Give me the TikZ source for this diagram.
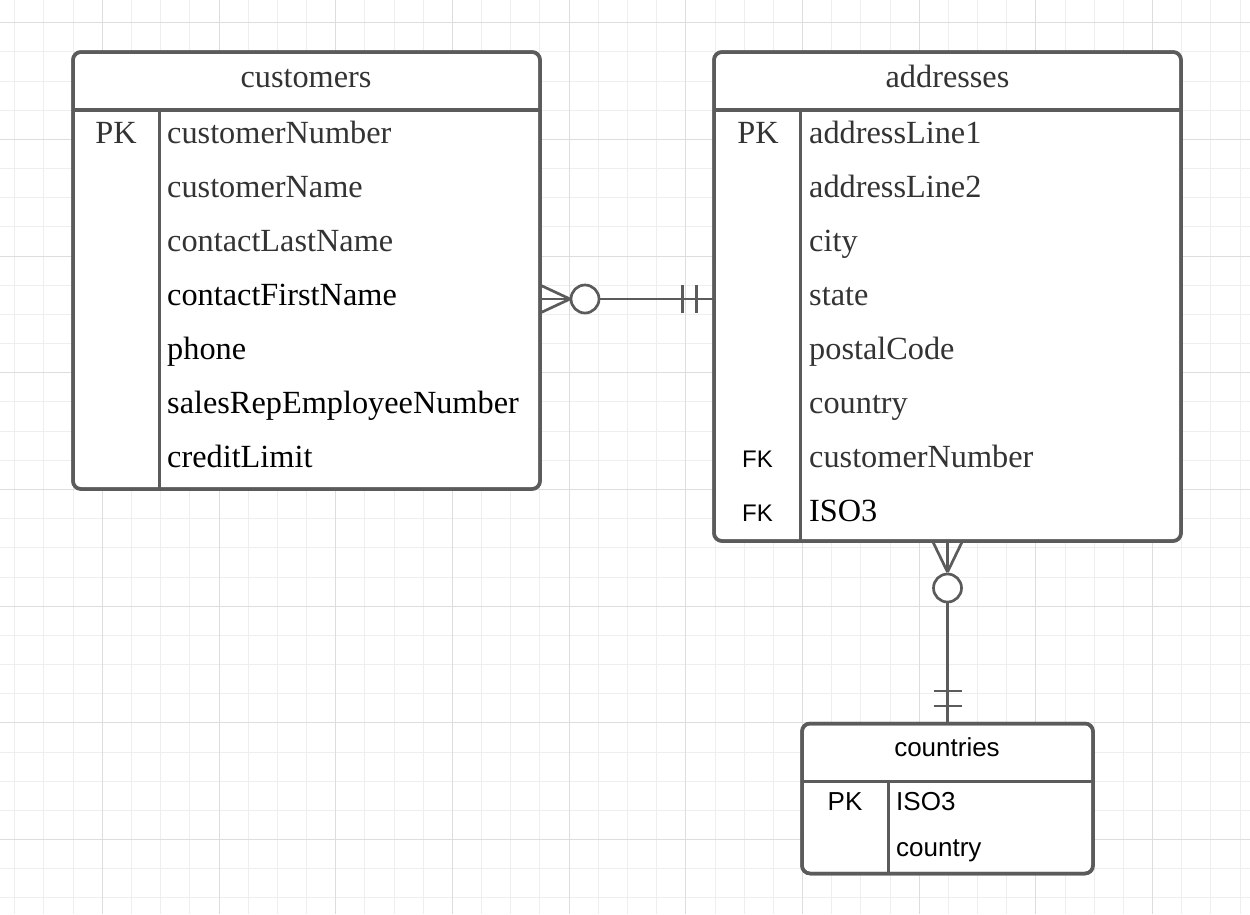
\documentclass[tikz,border=0pt]{standalone}
\usepackage{fontspec}
\setmainfont{Liberation Serif}
\newfontfamily\erdsans{Liberation Sans}
\usetikzlibrary{calc}

\definecolor{gridminor}{HTML}{EEEEEE}
\definecolor{gridmajor}{HTML}{DDDDDD}
\definecolor{edge}{HTML}{5B5B5B}
\definecolor{soft}{HTML}{333333}

\tikzset{
  tbl/.style={draw=edge, line width=3.5pt, rounded corners=8pt, fill=white,
    inner sep=0pt, outer sep=0pt, anchor=north west},
  rule/.style={draw=edge, line width=3.5pt},
  link/.style={draw=edge, line width=2.7pt},
  ring/.style={circle, draw=edge, line width=2.7pt, fill=white,
    minimum size=28pt, inner sep=0pt, outer sep=0pt},
  serifsize/.style={font=\fontsize{32.3}{38}\selectfont},
  ttl/.style={serifsize, anchor=base, inner sep=0pt, text=soft},
  fld/.style={serifsize, anchor=base west, inner sep=0pt, text=soft},
  fldk/.style={fld, text=black},
  key/.style={serifsize, anchor=base, inner sep=0pt, text=soft},
  fk/.style={anchor=base, inner sep=0pt, text=black,
    font=\erdsans\fontsize{24}{28}\selectfont},
  sttl/.style={anchor=base, inner sep=0pt, text=black,
    font=\erdsans\fontsize{26}{30}\selectfont},
  sfld/.style={anchor=base west, inner sep=0pt, text=black,
    font=\erdsans\fontsize{26}{30}\selectfont},
}

\begin{document}
\begin{tikzpicture}[x=1pt, y=-1pt]
\useasboundingbox (0,0) rectangle (1250,914);
\fill[white] (0,0) rectangle (1250,914);

% background grid
\foreach \i in {0,...,42}
  \draw[gridminor, line width=1pt] ({14.8+\i*29.175},0) -- ({14.8+\i*29.175},914);
\foreach \j in {0,...,30}
  \draw[gridminor, line width=1pt] (0,{22.7+\j*29.175}) -- (1250,{22.7+\j*29.175});
\foreach \i in {0,...,9}
  \draw[gridmajor, line width=1pt] ({102.3+\i*116.7},0) -- ({102.3+\i*116.7},914);
\foreach \j in {0,...,7}
  \draw[gridmajor, line width=1pt] (0,{22.7+\j*116.7}) -- (1250,{22.7+\j*116.7});

% tables
\node[tbl, minimum width=467pt, minimum height=437pt] (customers) at (73,52) {};
\node[tbl, minimum width=467pt, minimum height=489pt] (addresses) at (714,52) {};
\node[tbl, minimum width=291pt, minimum height=150pt] (countries) at (802,723.5) {};

% header rules and key column dividers
\foreach \t in {customers, addresses, countries} {
  \draw[rule] ([yshift=-58pt]\t.north west) -- ([yshift=-58pt]\t.north east);
  \draw[rule] ([xshift=86.5pt, yshift=-58pt]\t.north west) -- ([xshift=86.5pt]\t.south west);
}

% relationship: customers (zero or many) -- addresses (exactly one)
\coordinate (e1) at (customers.east |- 0,299);
\coordinate (e2) at (addresses.west |- 0,299);
\coordinate (tip1) at ($(e1)+(30,0)$);
\draw[link] ($(e1)+(0,-14)$) -- (tip1);
\draw[link] ($(e1)+(0,14)$) -- (tip1);
\draw[link] (e1) -- (tip1);
\node[ring] (ring1) at ($(e1)+(45,0)$) {};
\draw[link] (ring1.east) -- (e2);
\draw[link] ($(e2)+(-31.5,-14)$) -- ($(e2)+(-31.5,14)$);
\draw[link] ($(e2)+(-17.3,-14)$) -- ($(e2)+(-17.3,14)$);

% relationship: addresses (zero or many) -- countries (exactly one)
\coordinate (e3) at (addresses.south -| countries.north);
\coordinate (e4) at (countries.north);
\coordinate (tip2) at ($(e3)+(0,31)$);
\draw[link] ($(e3)+(-15,0)$) -- (tip2);
\draw[link] ($(e3)+(15,0)$) -- (tip2);
\draw[link] (e3) -- (tip2);
\node[ring] (ring2) at ($(e3)+(0,47)$) {};
\draw[link] (ring2.south) -- (e4);
\draw[link] ($(e4)+(-14,-32.5)$) -- ($(e4)+(14,-32.5)$);
\draw[link] ($(e4)+(-14,-17.5)$) -- ($(e4)+(14,-17.5)$);

% redraw table outlines above connector ends
\foreach \t in {customers, addresses, countries}
  \draw[edge, line width=3.5pt, rounded corners=8pt]
    (\t.north west) rectangle (\t.south east);

% customers
\node[ttl] (custTitle) at (306,87) {customers};
\node[key] (custPK) at (116,143.5) {PK};
\node[fld]  (cust1) at (167,143.5) {customerNumber};
\node[fld]  (cust2) at (167,197.5) {customerName};
\node[fld]  (cust3) at (167,251.5) {contactLastName};
\node[fldk] (cust4) at (167,305.5) {contactFirstName};
\node[fldk] (cust5) at (167,359.5) {phone};
\node[fldk] (cust6) at (167,413.5) {salesRepEmployeeNumber};
\node[fldk] (cust7) at (167,467.5) {creditLimit};

% addresses
\node[ttl] (addrTitle) at (947.5,87) {addresses};
\node[key] (addrPK) at (758,143.5) {PK};
\node[fld]  (addr1) at (809,143.5) {addressLine1};
\node[fld]  (addr2) at (809,197.5) {addressLine2};
\node[fld]  (addr3) at (809,251.5) {city};
\node[fld]  (addr4) at (809,305.5) {state};
\node[fld]  (addr5) at (809,359.5) {postalCode};
\node[fld]  (addr6) at (809,413.5) {country};
\node[fld]  (addr7) at (809,467.5) {customerNumber};
\node[fldk] (addr8) at (809,521.5) {ISO3};
\node[fk] (addrFK1) at (757.5,467) {FK};
\node[fk] (addrFK2) at (757.5,521) {FK};

% countries
\node[sttl] (ctryTitle) at (947,756) {countries};
\node[sttl] (ctryPK) at (845,810) {PK};
\node[sfld] (ctry1) at (896,810) {ISO3};
\node[sfld] (ctry2) at (896,856) {country};
\end{tikzpicture}
\end{document}
